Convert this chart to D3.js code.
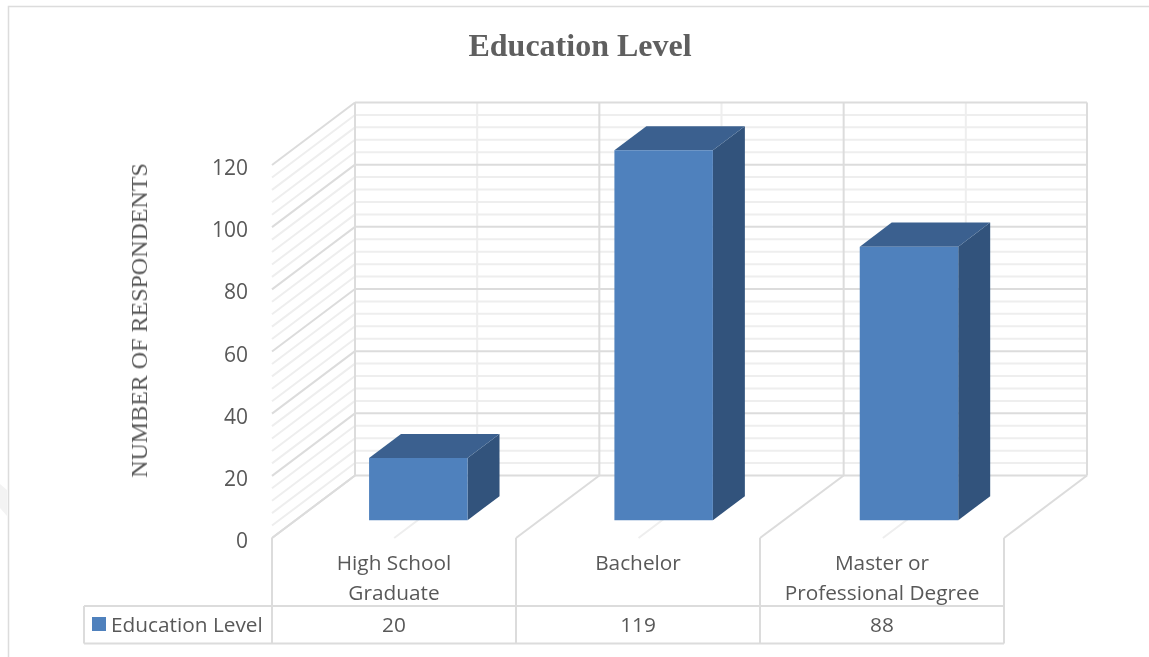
<!DOCTYPE html>
<html><head><meta charset="utf-8">
<script src="https://cdn.jsdelivr.net/npm/d3@7"></script>
<style>html,body{margin:0;padding:0;background:#fff}svg{display:block}</style>
</head><body><svg id="c" width="1149" height="657"></svg>
<script>
const chartTitle = "Education Level";
const yAxisTitle = "NUMBER OF RESPONDENTS";
const seriesName = "Education Level";
const categories = ["High School Graduate", "Bachelor", "Master or Professional Degree"];
const categoryLines = [["High School", "Graduate"], ["Bachelor"], ["Master or", "Professional Degree"]];
const values = [20, 119, 88];
const yTicks = [0, 20, 40, 60, 80, 100, 120];
const yMinorTicks = d3.range(0, 121, 4);

const svg = d3.select("#c");
const defs = svg.append("defs");
defs.append("filter").attr("id", "soft").append("feGaussianBlur").attr("stdDeviation", 0.45);
defs.append("filter").attr("id", "softT").append("feGaussianBlur").attr("stdDeviation", 0.25);

const x = d3.scaleBand().domain(categories).range([272, 1004]);
const xBack = d3.scaleBand().domain(categories).range([272, 1005]);
const xBar = d3.scaleBand().domain(categories).range([272, 1008]);
const y = d3.scaleLinear().domain([0, 120]).range([538, 165]);
// depth: 0 = front of the floor, 1 = back wall
const depthX = d3.scaleLinear().domain([0, 1]).range([0, 83]);
const depthY = d3.scaleLinear().domain([0, 1]).range([0, -62.5]);
const P = (px, v, d) => [px + depthX(d), y(v) + depthY(d)];
const poly = pts => "M" + pts.map(p => p.join(",")).join("L") + "Z";
const line = (g, a, b, col, w) => g.append("line")
  .attr("x1", a[0]).attr("y1", a[1]).attr("x2", b[0]).attr("y2", b[1])
  .attr("stroke", col).attr("stroke-width", w);

const GRID = "#dcdcdc", MINOR = "#eeeeee", TXT = "#595959";
const x0 = x.range()[0], x1 = x.range()[1];

// picture frame and the stray mark at the left edge
svg.append("path").attr("d", "M8.5,657V6.5H1149").attr("fill", "none").attr("stroke", "#dcdcdc").attr("stroke-width", 1.5);
svg.append("path").attr("d", "M0,484L7,490V516L0,508Z").attr("fill", "#f3f3f3");

const grid = svg.append("g").attr("filter", "url(#soft)");
// minor grid: back wall + side wall
yMinorTicks.filter(v => v % 20).forEach(v => {
  line(grid, P(x0, v, 1), P(x1, v, 1), MINOR, 2);
  line(grid, P(x0, v, 0), P(x0, v, 1), MINOR, 2);
});
categories.forEach(c => {
  const cx = xBack(c) + xBack.bandwidth() / 2;
  line(grid, P(cx, 0, 1), P(cx, 120, 1), MINOR, 2);
  line(grid, P(cx, 0, 0), P(cx, 0, 1), MINOR, 2);
});
categories.forEach((c, i) => {
  const px = xBack(c);
  line(grid, P(px, 0, 1), P(px, 120, 1), GRID, 2);
  line(grid, P(x(c), 0, 0), P(px, 0, 1), GRID, 2);
});
line(grid, P(x1, 0, 1), P(x1, 120, 1), GRID, 2);
line(grid, P(x1, 0, 0), P(x1, 0, 1), GRID, 2);
// major grid
yTicks.forEach(v => {
  line(grid, P(x0, v, 1), P(x1, v, 1), GRID, 2);
  line(grid, P(x0, v, 0), P(x0, v, 1), GRID, 2);
});

// 3D bars
const barW = 98.5, d0 = 0.285, d1 = 0.67;
const bars = svg.append("g").attr("filter", "url(#softT)").selectAll("g").data(categories).join("g");
bars.each(function (c, i) {
  const g = d3.select(this), l = xBar(c) + xBar.bandwidth() / 2 - barW / 2, r = l + barW, v = values[i];
  g.append("path").attr("fill", "#30527c").attr("d", poly([P(r, 0, d0), P(r, 0, d1), P(r, v, d1), P(r, v, d0)]));
  g.append("path").attr("fill", "#3b618f").attr("d", poly([P(l, v, d0), P(r, v, d0), P(r, v, d1), P(l, v, d1)]));
  g.append("path").attr("fill", "#4f81bd").attr("d", poly([P(l, 0, d0), P(r, 0, d0), P(r, v, d0), P(l, v, d0)]));
});

// y axis labels
const font = "'Open Sans', sans-serif";
const axis = d3.axisLeft(y).tickValues(yTicks).tickSize(0).tickPadding(0);
const ag = svg.append("g").attr("transform", "translate(248,2)").attr("filter", "url(#softT)").call(axis);
ag.select(".domain").remove();
ag.selectAll("text").attr("font-family", font).attr("font-size", 21).attr("fill", TXT).attr("dy", "0.36em");

// titles
svg.append("text").attr("x", 580).attr("y", 56).attr("text-anchor", "middle")
  .attr("font-family", "'Liberation Serif', serif").attr("font-weight", "bold").attr("font-size", 32)
  .attr("fill", "#5f5f5f").attr("filter", "url(#softT)").text(chartTitle);
svg.append("text").attr("transform", "translate(147,320.5) rotate(-90)").attr("text-anchor", "middle")
  .attr("font-family", "'Liberation Serif', serif").attr("font-size", 24).attr("fill", TXT)
  .attr("filter", "url(#softT)").text(yAxisTitle);

// data table
const rowTop = 606, rowBot = 643.5, left = 84;
const tb = svg.append("g");
const lines = tb.append("g").attr("filter", "url(#softT)");
line(lines, [left, rowTop], [x1, rowTop], GRID, 2);
line(lines, [left, rowBot], [x1, rowBot], GRID, 2);
line(lines, [left, rowTop], [left, rowBot], GRID, 2);
x.domain().concat("end").forEach(c => {
  const px = c === "end" ? x1 : x(c);
  line(lines, [px, y(0)], [px, rowBot], GRID, 2);
});
const tf = (s, px, py, anchor) => tb.append("text").attr("x", px).attr("y", py).attr("text-anchor", anchor || "middle")
  .attr("font-family", font).attr("font-size", 20.8).attr("fill", TXT).attr("filter", "url(#softT)").text(s);
categories.forEach((c, i) => {
  const cx = x(c) + x.bandwidth() / 2;
  categoryLines[i].forEach((t, k) => tf(t, cx, 570 + k * 30));
  tf(values[i], cx, 631.5);
});
tb.append("rect").attr("x", 92).attr("y", 617).attr("width", 14).attr("height", 14).attr("fill", "#4f81bd");
tf(seriesName, 111, 631.5, "start");
</script></body></html>
